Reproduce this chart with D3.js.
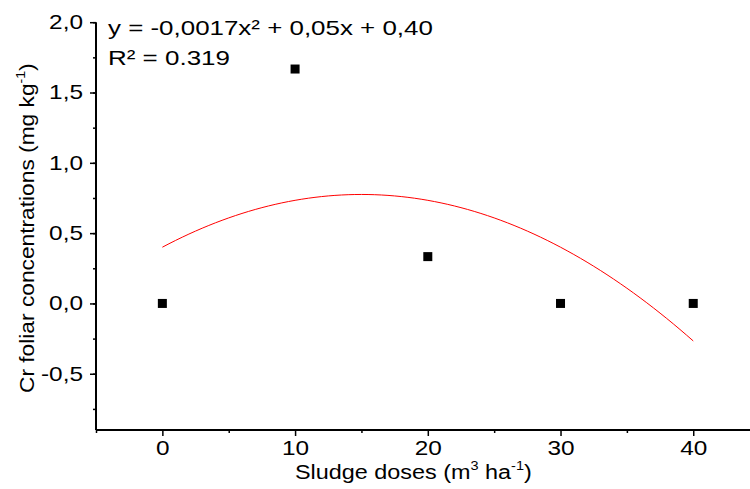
<!DOCTYPE html>
<html><head><meta charset="utf-8">
<script src="https://cdn.jsdelivr.net/npm/d3@7"></script>
<style>body{margin:0;background:#fff}svg{display:block;font-family:"Liberation Sans",Arial,sans-serif}</style>
</head><body>
<svg id="c" width="750" height="489"></svg>
<script>
const doses = [0, 10, 20, 30, 40];
const crValues = [0.0, 1.667, 0.333, 0.0, 0.0];
const fitCoef = [-0.0016667, 0.05, 0.40]; // a, b, c of y = ax^2 + bx + c
const xTicks = [0, 10, 20, 30, 40];
const yTicks = [-0.5, 0.0, 0.5, 1.0, 1.5, 2.0];
const eqLabel = "y = -0,0017x² + 0,05x + 0,40";
const r2Label = "R² = 0.319";

const svg = d3.select("#c");
const x = d3.scaleLinear().domain([-5, 45]).range([96, 759.6]);
const y = d3.scaleLinear().domain([-0.9, 2.0]).range([430, 22.2]);
const fmt = d => d3.format(".1f")(d).replace(".", ",").replace("−","-");
const SX = 1.22;

// y axis
const gy = svg.append("g").attr("transform", "translate(96,0)");
gy.call(d3.axisLeft(y).tickValues(d3.range(-0.75, 2.01, 0.25)).tickSize(3).tickFormat(""));
gy.selectAll(".tick line").attr("stroke", "#000").attr("stroke-width", 1.5);
gy.select(".domain").remove();
const gy2 = svg.append("g").attr("transform", "translate(96,0)")
  .call(d3.axisLeft(y).tickValues(yTicks).tickSize(6).tickFormat(fmt));
gy2.select(".domain").attr("stroke-width", 2).attr("d", `M0,${y(-0.9)}V${y(2.0)}`);
gy2.selectAll(".tick line").attr("stroke-width", 1.5);
gy2.selectAll("text").attr("font-size", 20).attr("fill", "#000")
  .attr("font-family", "Liberation Sans, Arial, sans-serif")
  .attr("x", -13 / SX).attr("transform", `scale(${SX},1)`);

// x axis
const gx = svg.append("g").attr("transform", "translate(0,430)");
gx.call(d3.axisBottom(x).tickValues(d3.range(-5, 46, 10)).tickSize(3).tickFormat(""));
gx.selectAll(".tick line").attr("stroke-width", 1.5);
gx.select(".domain").remove();
const gx2 = svg.append("g").attr("transform", "translate(0,430)")
  .call(d3.axisBottom(x).tickValues(xTicks).tickSize(6).tickPadding(5).tickFormat(d3.format("d")));
gx2.select(".domain").attr("stroke-width", 2).attr("d", `M${x(-5)},0H760`);
gx2.selectAll(".tick line").attr("stroke-width", 1.5);
gx2.selectAll("text").attr("font-size", 20).attr("fill", "#000")
  .attr("font-family", "Liberation Sans, Arial, sans-serif")
  .attr("transform", `scale(${SX},1)`);

// fit curve
const curveX = d3.range(0, 40.01, 0.5);
const f = v => fitCoef[0]*v*v + fitCoef[1]*v + fitCoef[2];
svg.append("path").datum(curveX)
  .attr("fill", "none").attr("stroke", "#ff0000").attr("stroke-width", 1)
  .attr("d", d3.line().x(d => x(d)).y(d => y(f(d))));

// points
svg.selectAll("rect.pt").data(doses).join("rect").attr("class", "pt")
  .attr("x", (d) => x(d) - 4.5).attr("y", (d, i) => y(crValues[i]) - 4.5)
  .attr("width", 9).attr("height", 9).attr("fill", "#000");

// fit a text horizontally between left and right at a baseline
function fitH(t, left, right, base) {
  const b = t.node().getBBox();
  const s = (right - left) / b.width;
  t.attr("transform", `translate(${left - b.x * s},${base}) scale(${s},1)`);
}

// equation labels
const eq = svg.append("text").attr("font-size", 21).text(eqLabel);
fitH(eq, 108, 433, 35);
const r2 = svg.append("text").attr("font-size", 21).text(r2Label);
fitH(r2, 108, 230, 65);

// x title
const xt = svg.append("text").attr("font-size", 21);
xt.append("tspan").text("Sludge doses (m");
xt.append("tspan").attr("font-size", 13).attr("dy", -9).text("3");
xt.append("tspan").attr("dy", 9).text(" ha");
xt.append("tspan").attr("font-size", 13).attr("dy", -9).text("-1");
xt.append("tspan").attr("dy", 9).text(")");
fitH(xt, 295, 532, 479);

// y title (fit along its length: from y=393 up to y=63)
const yt = svg.append("text").attr("font-size", 21);
yt.append("tspan").text("Cr foliar concentrations (mg kg");
yt.append("tspan").attr("font-size", 13).attr("dy", -9).text("-1");
yt.append("tspan").attr("dy", 9).text(")");
{
  const b = yt.node().getBBox();
  const s = (393 - 63) / b.width;
  yt.attr("transform", `translate(34,${393 + b.x * s}) rotate(-90) scale(${s},1)`);
}
</script>
</body></html>
